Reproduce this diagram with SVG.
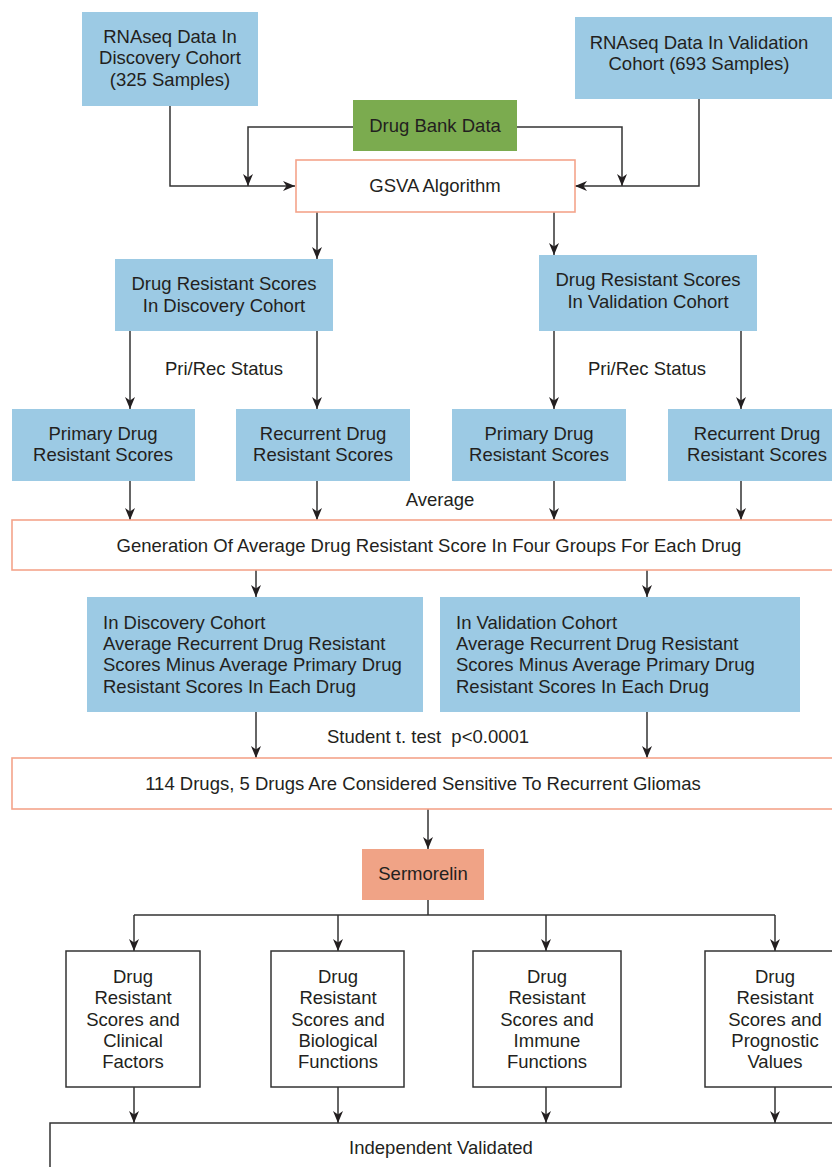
<svg xmlns="http://www.w3.org/2000/svg" width="832" height="1167" viewBox="0 0 832 1167">
<style>
text{font-family:"Liberation Sans",Arial,sans-serif;font-size:18.5px;fill:#231f20;text-anchor:middle}
.l{text-anchor:start}
.blue{fill:#9ccae4}
.green{fill:#7bab4f}
.sal{fill:#f0a386}
.obox{fill:#fff;stroke:#f4a48b;stroke-width:1.6}
.kbox{fill:#fff;stroke:#333;stroke-width:1.5}
.c{fill:none;stroke:#333;stroke-width:1.5;marker-end:url(#ah)}
.n{fill:none;stroke:#333;stroke-width:1.5}
</style>
<defs>
<marker id="ah" viewBox="0 0 12 10" refX="12" refY="5" markerWidth="13" markerHeight="10" markerUnits="userSpaceOnUse" orient="auto">
<path d="M0,0 L12,5 L0,10 L3.5,5 Z" fill="#231f20"/>
</marker>
</defs>
<g id="connectors">
<path class="c" d="M170,106 V186 H295"/>
<path class="c" d="M353,127 H248 V186"/>
<path class="c" d="M517,127 H622 V186"/>
<path class="c" d="M699,99 V186 H575"/>
<path class="c" d="M317,212 V259"/>
<path class="c" d="M554,212 V255"/>
<path class="c" d="M130,331 V409"/>
<path class="c" d="M317,331 V409"/>
<path class="c" d="M554,331 V409"/>
<path class="c" d="M741,331 V409"/>
<path class="c" d="M130,481 V520"/>
<path class="c" d="M317,481 V520"/>
<path class="c" d="M554,481 V520"/>
<path class="c" d="M741,481 V520"/>
<path class="c" d="M256,570 V597"/>
<path class="c" d="M647,570 V597"/>
<path class="c" d="M256,712 V758"/>
<path class="c" d="M647,712 V758"/>
<path class="c" d="M428,809 V849"/>
<path class="n" d="M428,900 V915 M134,915 H775"/>
<path class="c" d="M134,915 V951"/>
<path class="c" d="M338,915 V951"/>
<path class="c" d="M546,915 V951"/>
<path class="c" d="M775,915 V951"/>
<path class="c" d="M134,1087 V1123"/>
<path class="c" d="M338,1087 V1123"/>
<path class="c" d="M546,1087 V1123"/>
<path class="c" d="M775,1087 V1123"/>
</g>
<g id="labels">
<text x="224" y="375">Pri/Rec Status</text>
<text x="647" y="375">Pri/Rec Status</text>
<text x="440" y="506">Average</text>
<text x="428" y="743" xml:space="preserve">Student t. test  p&lt;0.0001</text>
</g>
<g id="rna-discovery">
<rect class="blue" x="82" y="12" width="176" height="94"/>
<text x="170" y="43">RNAseq Data In</text>
<text x="170" y="64">Discovery Cohort</text>
<text x="170" y="86">(325 Samples)</text>
</g>
<g id="rna-validation">
<rect class="blue" x="575" y="17" width="257" height="82"/>
<text x="699" y="49">RNAseq Data In Validation</text>
<text x="699" y="70">Cohort (693 Samples)</text>
</g>
<g id="drugbank">
<rect class="green" x="353" y="100" width="164" height="51"/>
<text x="435" y="132">Drug Bank Data</text>
</g>
<g id="gsva">
<rect class="obox" x="296" y="160" width="279" height="52"/>
<text x="435" y="192">GSVA Algorithm</text>
</g>
<g id="drs-discovery">
<rect class="blue" x="115" y="259" width="218" height="72"/>
<text x="224" y="290">Drug Resistant Scores</text>
<text x="224" y="312">In Discovery Cohort</text>
</g>
<g id="drs-validation">
<rect class="blue" x="539" y="255" width="218" height="76"/>
<text x="648" y="286">Drug Resistant Scores</text>
<text x="648" y="308">In Validation Cohort</text>
</g>
<g id="primary-discovery">
<rect class="blue" x="12" y="409" width="183" height="72"/>
<text x="103" y="440">Primary Drug</text>
<text x="103" y="461">Resistant Scores</text>
</g>
<g id="recurrent-discovery">
<rect class="blue" x="236" y="409" width="174" height="72"/>
<text x="323" y="440">Recurrent Drug</text>
<text x="323" y="461">Resistant Scores</text>
</g>
<g id="primary-validation">
<rect class="blue" x="452" y="409" width="174" height="72"/>
<text x="539" y="440">Primary Drug</text>
<text x="539" y="461">Resistant Scores</text>
</g>
<g id="recurrent-validation">
<rect class="blue" x="668" y="409" width="164" height="72"/>
<text x="757" y="440">Recurrent Drug</text>
<text x="757" y="461">Resistant Scores</text>
</g>
<g id="generation">
<rect class="obox" x="12" y="520" width="830" height="50"/>
<text x="429" y="552">Generation Of Average Drug Resistant Score In Four Groups For Each Drug</text>
</g>
<g id="diff-discovery">
<rect class="blue" x="87" y="597" width="336" height="115"/>
<text class="l" x="103" y="629">In Discovery Cohort</text>
<text class="l" x="103" y="650">Average Recurrent Drug Resistant</text>
<text class="l" x="103" y="671">Scores Minus Average Primary Drug</text>
<text class="l" x="103" y="693">Resistant Scores In Each Drug</text>
</g>
<g id="diff-validation">
<rect class="blue" x="440" y="597" width="360" height="115"/>
<text class="l" x="456" y="629">In Validation Cohort</text>
<text class="l" x="456" y="650">Average Recurrent Drug Resistant</text>
<text class="l" x="456" y="671">Scores Minus Average Primary Drug</text>
<text class="l" x="456" y="693">Resistant Scores In Each Drug</text>
</g>
<g id="drugs114">
<rect class="obox" x="12" y="758" width="830" height="51"/>
<text x="423" y="790">114 Drugs, 5 Drugs Are Considered Sensitive To Recurrent Gliomas</text>
</g>
<g id="sermorelin">
<rect class="sal" x="362" y="849" width="122" height="51"/>
<text x="423" y="880">Sermorelin</text>
</g>
<g id="clinical">
<rect class="kbox" x="66" y="951" width="134" height="136"/>
<text x="133" y="983">Drug</text>
<text x="133" y="1004">Resistant</text>
<text x="133" y="1026">Scores and</text>
<text x="133" y="1047">Clinical</text>
<text x="133" y="1068">Factors</text>
</g>
<g id="biological">
<rect class="kbox" x="271" y="951" width="133" height="136"/>
<text x="338" y="983">Drug</text>
<text x="338" y="1004">Resistant</text>
<text x="338" y="1026">Scores and</text>
<text x="338" y="1047">Biological</text>
<text x="338" y="1068">Functions</text>
</g>
<g id="immune">
<rect class="kbox" x="473" y="951" width="148" height="136"/>
<text x="547" y="983">Drug</text>
<text x="547" y="1004">Resistant</text>
<text x="547" y="1026">Scores and</text>
<text x="547" y="1047">Immune</text>
<text x="547" y="1068">Functions</text>
</g>
<g id="prognostic">
<rect class="kbox" x="705" y="951" width="140" height="136"/>
<text x="775" y="983">Drug</text>
<text x="775" y="1004">Resistant</text>
<text x="775" y="1026">Scores and</text>
<text x="775" y="1047">Prognostic</text>
<text x="775" y="1068">Values</text>
</g>
<g id="independent">
<rect class="kbox" x="50" y="1123" width="800" height="60"/>
<text x="441" y="1154">Independent Validated</text>
</g>
</svg>
